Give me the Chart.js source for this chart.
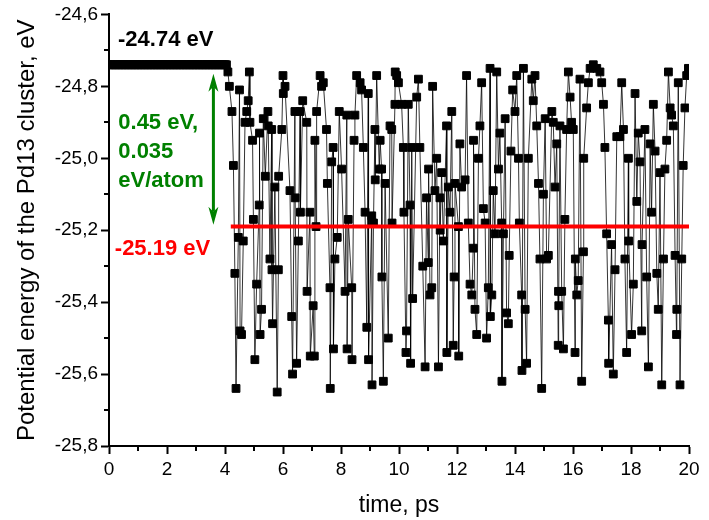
<!DOCTYPE html>
<html>
<head>
<meta charset="utf-8">
<script src="https://cdn.jsdelivr.net/npm/chart.js@4.4.1/dist/chart.umd.min.js"></script>
<style>
  html, body { margin: 0; padding: 0; background: #fff; }
  canvas { display: block; }
</style>
</head>
<body>
<canvas id="energyChart" width="709" height="520"></canvas>
<script>
// Pd13 cluster potential energy during the MD run
const plateauEnergy = -24.74;   // initial structure, eV
const minimumEnergy = -25.19;   // lower level after relaxation, eV
const plateauEnd = 4.05;        // ps
const sampleStep = 0.05;        // ps
const minimumLineStart = 4.2;   // ps
const timeMax = 20;

const runTimes = [
  4.10, 4.15, 4.24, 4.29, 4.34, 4.38, 4.46, 4.50, 4.52, 4.57, 4.63, 4.69, 4.75, 4.80, 4.84, 4.86, 4.95, 4.98, 5.03, 5.09,
  5.18, 5.19, 5.21, 5.26, 5.32, 5.39, 5.48, 5.49, 5.55, 5.61, 5.62, 5.64, 5.72, 5.80, 5.84, 5.85, 5.96, 6.00, 6.01, 6.07,
  6.24, 6.30, 6.33, 6.41, 6.42, 6.47, 6.53, 6.59, 6.60, 6.68, 6.82, 6.83, 6.93, 6.94, 7.04, 7.08, 7.10, 7.14, 7.16, 7.28,
  7.33, 7.39, 7.50, 7.53, 7.62, 7.63, 7.68, 7.73, 7.74, 7.79, 7.87, 7.94, 8.02, 8.14, 8.20, 8.21, 8.25, 8.37, 8.38, 8.45,
  8.48, 8.54,
  8.66, 8.71, 8.77, 8.83, 8.89, 8.94, 8.95, 9.06, 9.07, 9.12, 9.17, 9.18, 9.23, 9.32, 9.35, 9.40, 9.41, 9.46, 9.52, 9.63,
  9.69, 9.75, 9.76, 9.86, 9.87, 9.92, 9.98, 10.09, 10.15, 10.17, 10.24, 10.26, 10.32, 10.38, 10.40, 10.44, 10.47, 10.61, 10.67, 10.72,
  10.82, 10.90, 10.95, 11.01, 11.02, 11.07, 11.13, 11.16, 11.24, 11.30, 11.36, 11.41, 11.42, 11.47, 11.53, 11.64, 11.65, 11.70, 11.76, 11.82,
  11.87, 11.90, 11.93, 12.05, 12.06, 12.10,
  12.16, 12.28, 12.33, 12.39, 12.45, 12.51, 12.56, 12.57, 12.62, 12.68, 12.74, 12.79, 12.85, 12.91, 12.97, 13.02, 13.08, 13.14, 13.15, 13.20,
  13.25, 13.31, 13.37, 13.43, 13.48, 13.54, 13.55, 13.60, 13.66, 13.71, 13.77, 13.80, 13.86, 13.92, 14.00, 14.06, 14.12, 14.15, 14.23, 14.24,
  14.29, 14.35, 14.40, 14.46, 14.58, 14.63, 14.69, 14.75, 14.81, 14.86, 14.92, 14.98, 15.04, 15.09, 15.15, 15.27, 15.32, 15.38, 15.44, 15.49,
  15.50, 15.51, 15.55,
  15.61, 15.67, 15.72, 15.78, 15.84, 15.90, 15.95, 16.01, 16.07, 16.08, 16.13, 16.18, 16.24, 16.30, 16.36, 16.37, 16.47, 16.53, 16.59, 16.70,
  16.82, 16.93, 16.99, 17.05, 17.10, 17.16, 17.22, 17.23, 17.33, 17.39, 17.45, 17.51, 17.62, 17.68, 17.74, 17.79, 17.85, 17.91, 17.92, 18.02,
  18.08, 18.14, 18.20, 18.25, 18.31, 18.37, 18.38, 18.48, 18.54, 18.60, 18.66, 18.71, 18.77, 18.83, 18.89, 18.94, 19.00, 19.06, 19.12, 19.17,
  19.23, 19.29, 19.35, 19.40, 19.46, 19.52, 19.57, 19.58, 19.63, 19.69, 19.75, 19.80, 19.86, 19.92, 19.98
];

const runEnergies = [
  -24.76, -24.80, -24.87, -25.02, -25.32, -25.64, -25.22, -24.81, -25.48, -25.49, -25.23, -24.90, -24.87, -24.84, -24.76, -24.90, -24.95, -25.17, -25.56, -25.35,
  -25.13, -24.93, -25.49, -25.42, -24.89, -25.05, -24.87, -24.91, -25.28, -24.92, -25.31, -25.46, -25.08, -25.65, -25.31, -25.05, -24.92, -24.77, -24.82, -24.80,
  -25.09, -25.44, -25.60, -24.87, -25.11, -25.57, -25.23, -24.87, -25.15, -24.84, -24.90, -25.37, -25.15, -25.55, -25.41, -25.55, -24.95, -25.19, -24.87, -24.77,
  -24.80, -24.79, -24.92, -25.07, -25.36, -25.64, -25.01, -24.97, -25.53, -25.28, -25.22, -24.87, -25.03, -25.37, -24.88, -25.53, -25.17, -25.36, -25.56, -24.95,
  -24.88, -24.77,
  -24.79, -24.81, -24.97, -25.15, -25.47, -24.82, -25.56, -25.16, -25.63, -25.18, -24.92, -25.06, -24.77, -25.03, -24.95, -25.03, -25.33, -25.62, -25.07, -25.50,
  -24.91, -24.92, -25.18, -24.85, -24.76, -24.77, -24.79, -24.85, -24.97, -25.15, -25.54, -25.48, -24.85, -25.13, -25.57, -24.97, -25.39, -24.83, -24.78, -24.97,
  -25.30, -25.58, -25.11, -25.29, -25.03, -25.38, -25.36, -24.80, -25.09, -25.00, -25.58, -25.11, -25.20, -25.04, -25.23, -24.91, -25.54, -25.08, -25.15, -24.87,
  -25.52, -25.33, -25.07, -25.19, -25.55, -24.96,
  -25.08, -25.06, -24.77, -25.18, -25.35, -25.38, -25.25, -24.95, -25.42, -25.49, -25.00, -24.91, -24.79, -25.14, -25.18, -25.50, -25.36, -24.75, -25.44, -25.38,
  -25.09, -25.21, -24.76, -25.03, -24.93, -25.18, -25.62, -25.21, -24.89, -25.43, -25.46, -25.27, -24.98, -24.81, -24.87, -24.77, -25.00, -25.18, -25.38, -25.59,
  -24.75, -25.42, -25.57, -25.00, -24.78, -24.84, -24.77, -24.91, -25.07, -25.28, -25.64, -25.10, -24.89, -25.28, -25.27, -24.87, -24.90, -25.08, -24.96, -25.52,
  -25.37, -25.41, -24.91,
  -25.37, -25.53, -25.17, -24.92, -24.76, -24.83, -24.90, -24.92, -25.54, -25.28, -25.38, -25.34, -24.78, -25.62, -25.26, -25.00, -24.86, -24.79, -24.75, -24.74,
  -24.75, -24.76, -24.79, -24.85, -24.97, -25.21, -25.45, -25.57, -25.24, -25.60, -25.31, -24.94, -24.94, -24.79, -24.92, -25.28, -25.54, -25.00, -25.23, -25.49,
  -25.35, -24.82, -25.12, -24.93, -25.01, -25.48, -25.24, -24.92, -25.33, -25.58, -24.96, -25.15, -24.85, -24.98, -25.32, -25.42, -25.04, -25.63, -25.28, -25.03,
  -24.95, -24.76, -24.86, -24.88, -24.91, -25.27, -25.49, -25.42, -24.79, -25.63, -25.28, -25.02, -24.86, -24.77, -24.75
];

const xTicks = [0, 2, 4, 6, 8, 10, 12, 14, 16, 18, 20];
const xMinorTicks = [1, 3, 5, 7, 9, 11, 13, 15, 17, 19];
const yTicks = [-25.8, -25.6, -25.4, -25.2, -25.0, -24.8, -24.6];
const yMinorTicks = [-25.7, -25.5, -25.3, -25.1, -24.9, -24.7];

const topLabel = '-24.74 eV';
const bottomLabel = '-25.19 eV';
const gapLabel = ['0.45 eV,', '0.035', 'eV/atom'];
const gapArrowTime = 3.6;

const FONT = '"Liberation Sans", Arial, Helvetica, sans-serif';
Chart.defaults.font.family = FONT;
Chart.defaults.color = '#000';

// plateau before the cluster starts to rearrange
const energyPoints = [];
for (let i = 0; i * sampleStep <= plateauEnd + 1e-9; i++) {
  energyPoints.push({ x: +(i * sampleStep).toFixed(2), y: plateauEnergy });
}
runTimes.forEach((t, i) => energyPoints.push({ x: t, y: runEnergies[i] }));

// minor ticks, arrow and text notes
const notesPlugin = {
  id: 'notes',
  afterDraw(chart) {
    const { ctx, scales: { x, y }, chartArea } = chart;
    ctx.save();

    ctx.strokeStyle = '#000';
    ctx.lineWidth = 2;
    ctx.beginPath();
    xMinorTicks.forEach(t => {
      const px = Math.round(x.getPixelForValue(t));
      ctx.moveTo(px, chartArea.bottom);
      ctx.lineTo(px, chartArea.bottom + 5);
    });
    yMinorTicks.forEach(v => {
      const py = Math.round(y.getPixelForValue(v));
      ctx.moveTo(chartArea.left, py);
      ctx.lineTo(chartArea.left - 5, py);
    });
    ctx.stroke();

    // double arrow between the two levels
    const ax = x.getPixelForValue(gapArrowTime);
    const yTop = y.getPixelForValue(-24.765);
    const yBot = y.getPixelForValue(-25.185);
    const headLen = 18, headHalf = 5, notch = 13;
    ctx.strokeStyle = '#008000';
    ctx.fillStyle = '#008000';
    ctx.lineWidth = 3;
    ctx.beginPath();
    ctx.moveTo(ax, yTop + notch);
    ctx.lineTo(ax, yBot - notch);
    ctx.stroke();
    ctx.beginPath();
    ctx.moveTo(ax, yTop);
    ctx.lineTo(ax + headHalf, yTop + headLen);
    ctx.lineTo(ax, yTop + notch);
    ctx.lineTo(ax - headHalf, yTop + headLen);
    ctx.closePath();
    ctx.moveTo(ax, yBot);
    ctx.lineTo(ax + headHalf, yBot - headLen);
    ctx.lineTo(ax, yBot - notch);
    ctx.lineTo(ax - headHalf, yBot - headLen);
    ctx.closePath();
    ctx.fill();

    ctx.font = 'bold 22px ' + FONT;
    ctx.textAlign = 'left';
    ctx.textBaseline = 'alphabetic';

    ctx.fillStyle = '#000';
    ctx.fillText(topLabel, x.getPixelForValue(0.31), y.getPixelForValue(-24.687));

    ctx.fillStyle = '#008000';
    gapLabel.forEach((line, i) => {
      ctx.fillText(line, x.getPixelForValue(0.32), y.getPixelForValue(-24.919) + i * 29);
    });

    ctx.fillStyle = '#ff0000';
    ctx.fillText(bottomLabel, x.getPixelForValue(0.2), y.getPixelForValue(-25.269));

    ctx.restore();
  }
};

new Chart(document.getElementById('energyChart'), {
  type: 'scatter',
  data: {
    datasets: [
      {
        data: [{ x: minimumLineStart, y: minimumEnergy }, { x: timeMax, y: minimumEnergy }],
        showLine: true,
        borderColor: '#ff0000',
        borderWidth: 4,
        pointRadius: 0
      },
      {
        data: energyPoints,
        showLine: true,
        borderColor: 'rgba(0,0,0,0.8)',
        borderWidth: 1,
        pointStyle: 'rect',
        pointRadius: 5.5,
        pointBorderWidth: 1,
        pointBackgroundColor: '#000',
        pointBorderColor: '#000'
      }
    ]
  },
  options: {
    responsive: false,
    animation: false,
    layout: { padding: { top: 13, right: 20, left: 0, bottom: 0 } },
    plugins: { legend: { display: false }, tooltip: { enabled: false } },
    scales: {
      x: {
        type: 'linear',
        min: 0,
        max: timeMax,
        afterBuildTicks: scale => { scale.ticks = xTicks.map(value => ({ value })); },
        afterFit: scale => { scale.height = 74; },
        ticks: { font: { size: 19 }, padding: 4, color: '#000' },
        grid: { drawOnChartArea: false, drawTicks: true, tickLength: 8, tickWidth: 2, tickColor: '#000' },
        border: { display: true, color: '#000', width: 2 },
        title: { display: true, text: 'time, ps', font: { size: 23 }, color: '#000', padding: { top: 0, bottom: 1 } }
      },
      y: {
        min: -25.8,
        max: -24.6,
        afterBuildTicks: scale => { scale.ticks = yTicks.map(value => ({ value })); },
        afterFit: scale => { scale.width = 109; },
        ticks: {
          font: { size: 19 },
          padding: 3,
          color: '#000',
          callback: value => value.toFixed(1).replace('.', ',')
        },
        grid: { drawOnChartArea: false, drawTicks: true, tickLength: 8, tickWidth: 2, tickColor: '#000' },
        border: { display: true, color: '#000', width: 2 },
        title: { display: true, text: 'Potential energy of the Pd13 cluster, eV', font: { size: 24 }, color: '#000', padding: { top: 13, bottom: 0 } }
      }
    }
  },
  plugins: [notesPlugin]
});
</script>
</body>
</html>
